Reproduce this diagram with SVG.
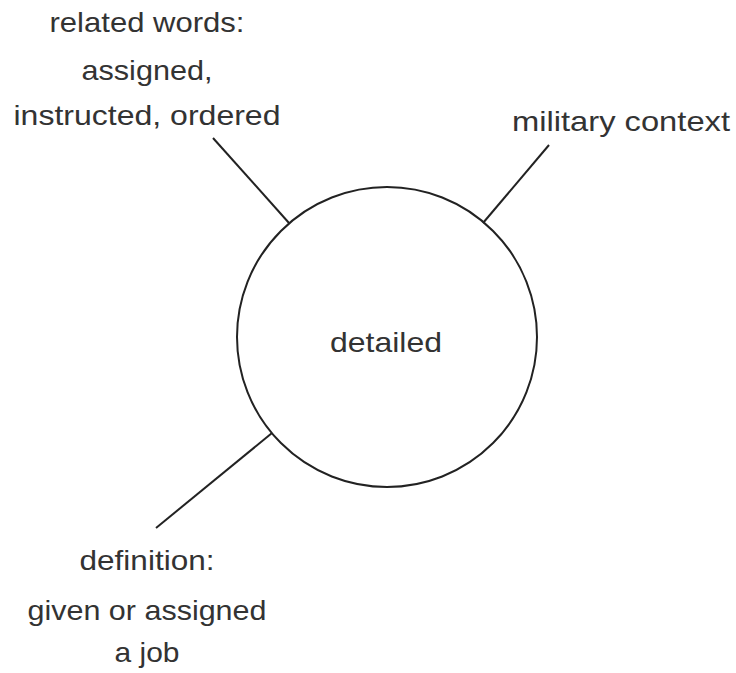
<svg xmlns="http://www.w3.org/2000/svg" width="736" height="673" viewBox="0 0 736 673">
<style>
.t{font-family:"Liberation Sans","DejaVu Sans",sans-serif;font-size:28px;fill:#333;text-anchor:middle}
.c{stroke:#222;stroke-width:2;fill:none}
</style>
<rect width="736" height="673" fill="#fff"/>
<g id="connectors">
<line class="c" x1="213" y1="138" x2="289" y2="223"/>
<line class="c" x1="549" y1="145" x2="483" y2="223"/>
<line class="c" x1="156" y1="528" x2="272" y2="433"/>
</g>
<g id="center">
<circle class="c" cx="387" cy="337" r="150"/>
<text class="t" x="386" y="352" textLength="112" lengthAdjust="spacingAndGlyphs">detailed</text>
</g>
<g id="related">
<text class="t" x="147" y="32" textLength="195" lengthAdjust="spacingAndGlyphs">related words:</text>
<text class="t" x="147" y="80" textLength="131" lengthAdjust="spacingAndGlyphs">assigned,</text>
<text class="t" x="147" y="125" textLength="267" lengthAdjust="spacingAndGlyphs">instructed, ordered</text>
</g>
<g id="military">
<text class="t" x="621" y="131" textLength="218" lengthAdjust="spacingAndGlyphs">military context</text>
</g>
<g id="definition">
<text class="t" x="147" y="570" textLength="135" lengthAdjust="spacingAndGlyphs">definition:</text>
<text class="t" x="147" y="620" textLength="239" lengthAdjust="spacingAndGlyphs">given or assigned</text>
<text class="t" x="147" y="662" textLength="65" lengthAdjust="spacingAndGlyphs">a job</text>
</g>
</svg>
